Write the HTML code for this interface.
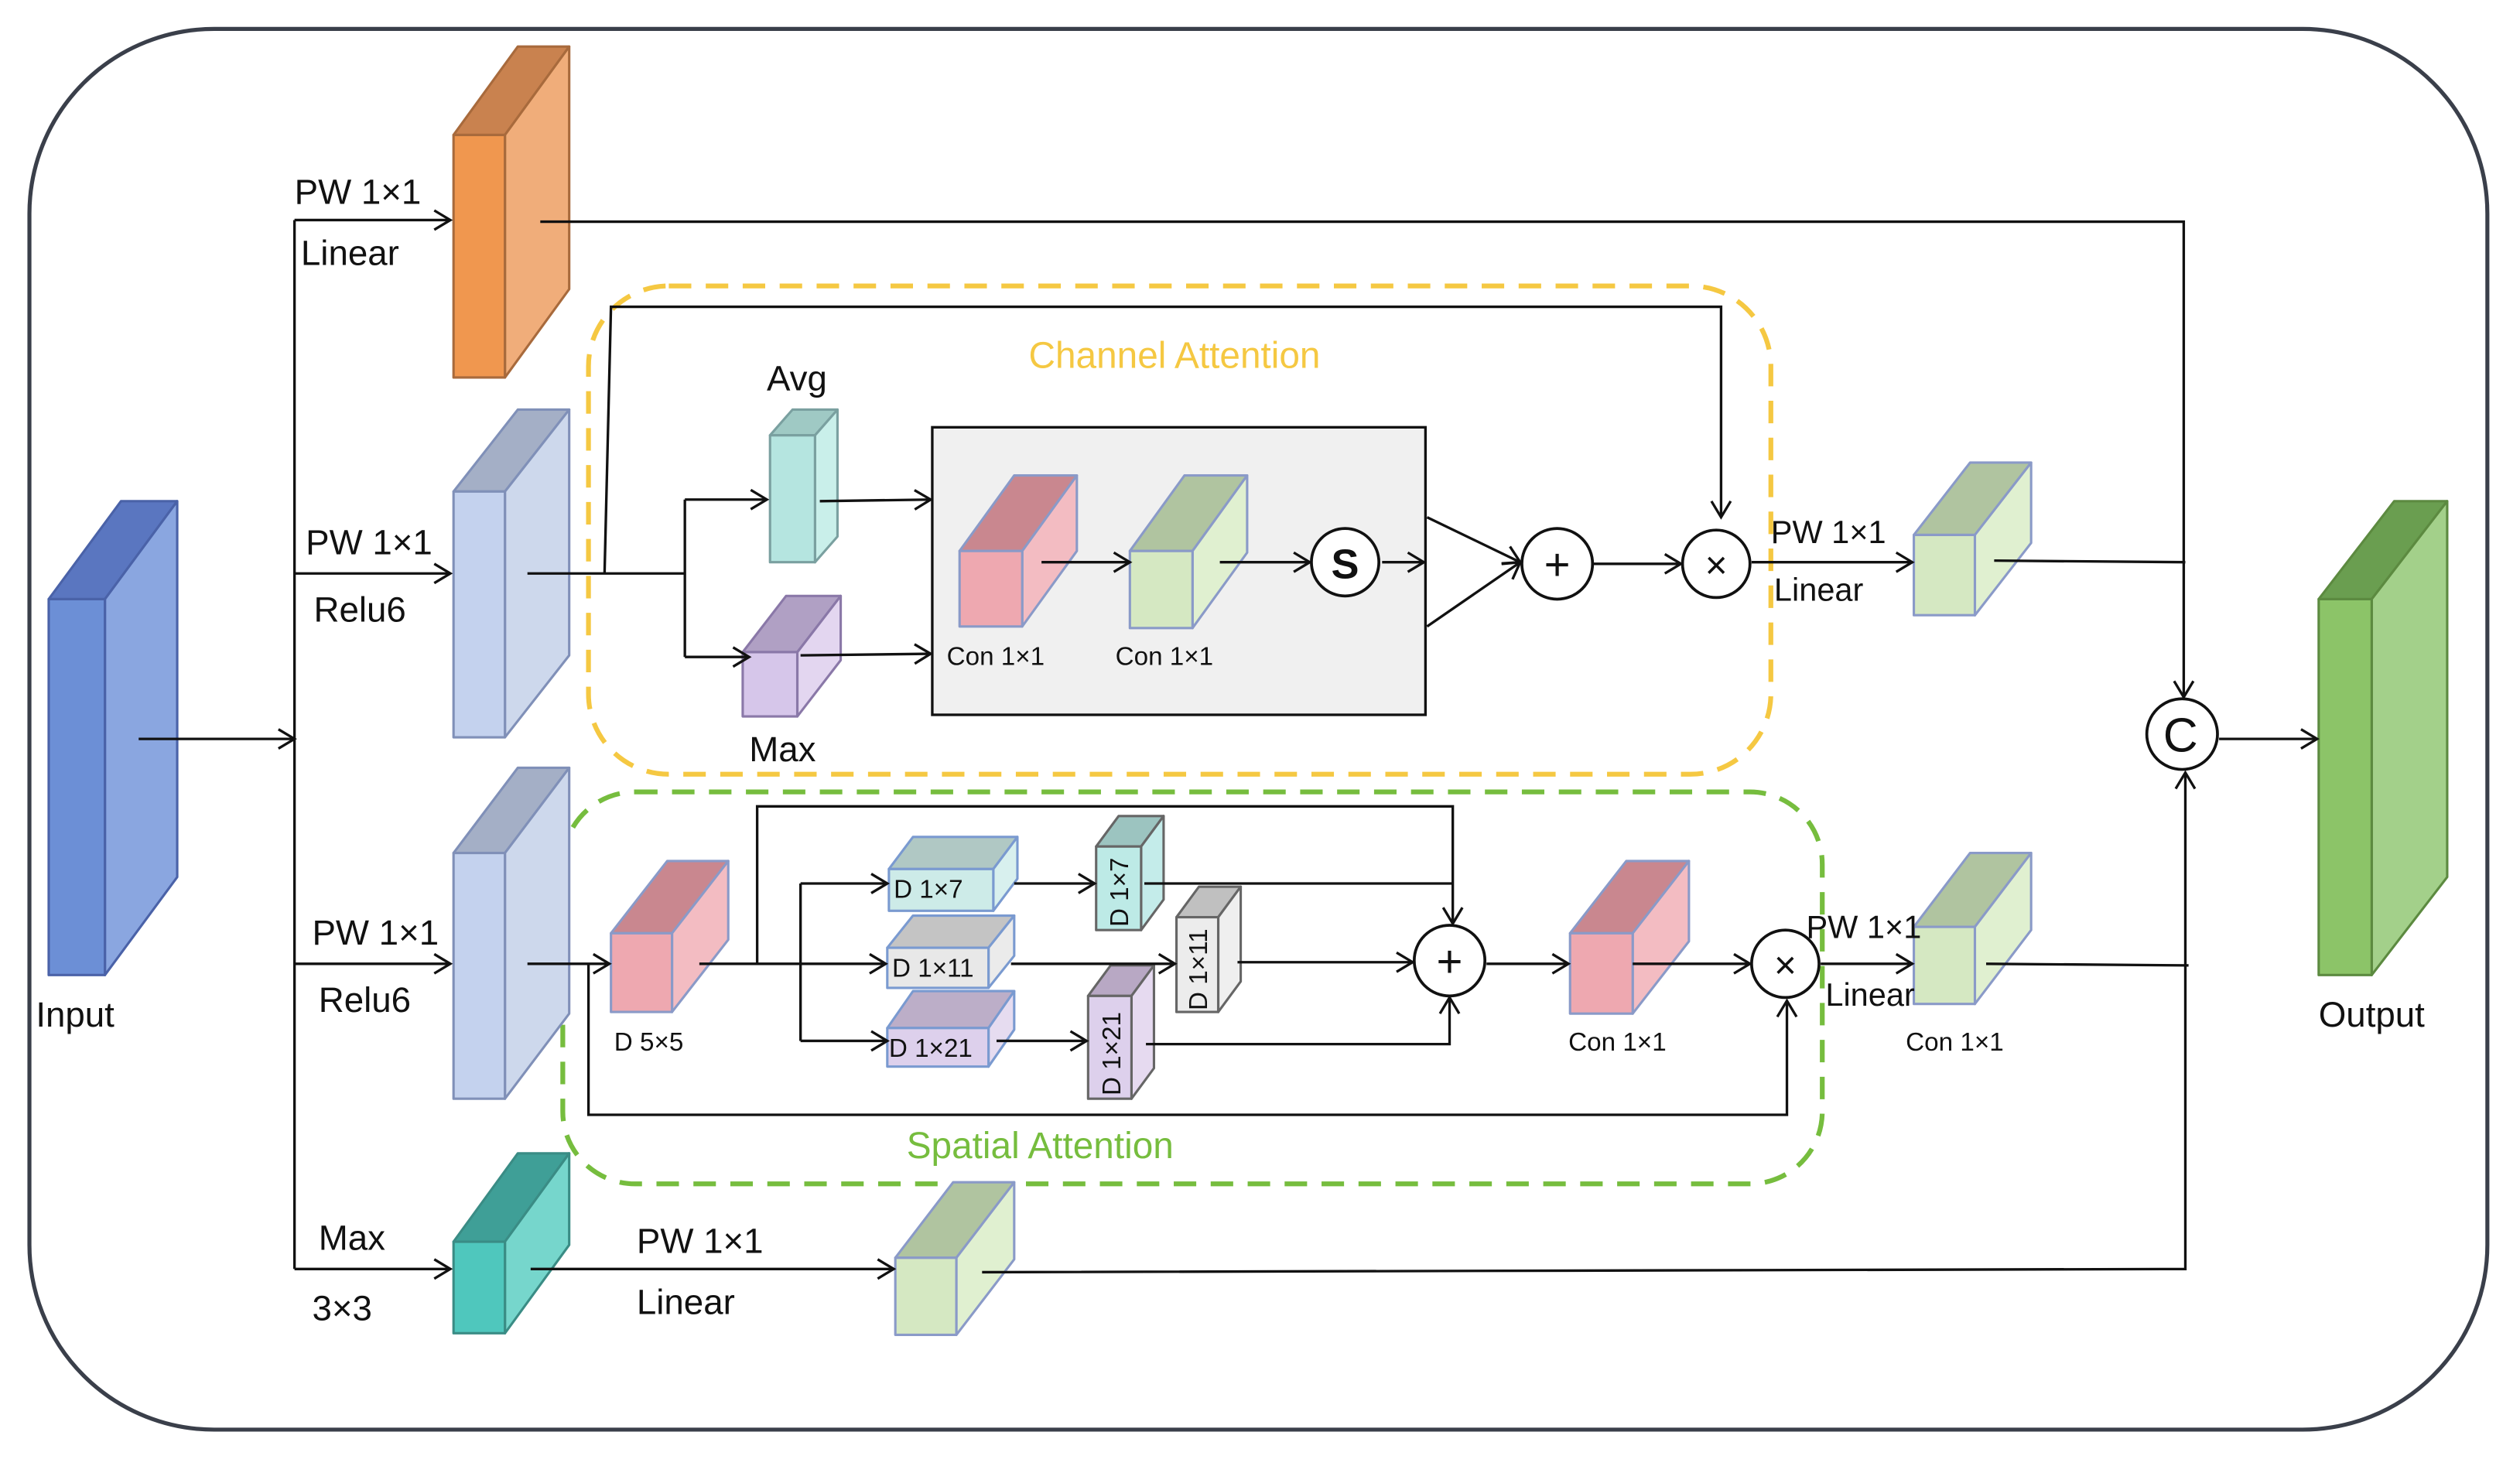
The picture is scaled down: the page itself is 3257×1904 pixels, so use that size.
<!DOCTYPE html>
<html><head><meta charset="utf-8"><style>
html,body{margin:0;padding:0;background:#fff}
svg{display:block}
text{font-family:"Liberation Sans","DejaVu Sans",sans-serif;fill:#111}
</style></head><body>
<svg width="3257" height="1904" viewBox="0 0 1568 917" xmlns="http://www.w3.org/2000/svg">
<defs>
<marker id="a" markerWidth="14" markerHeight="14" refX="11" refY="7" orient="auto" markerUnits="userSpaceOnUse">
<path d="M1,1 L11,7 L1,13" fill="none" stroke="#111" stroke-width="1.6"/></marker>
</defs>
<rect x="18" y="18" width="1530" height="872" rx="115" fill="#fff" stroke="#3a3f4a" stroke-width="2.5"/>

<!-- dashed boxes -->
<rect x="366" y="178" width="736" height="304" rx="50" fill="none" stroke="#f5c842" stroke-width="3" stroke-dasharray="14 9"/>
<rect x="350" y="493" width="784" height="244" rx="45" fill="none" stroke="#76bd3e" stroke-width="3" stroke-dasharray="14 9"/>
<rect x="580" y="266" width="307" height="179" fill="#f0f0f0" stroke="#111" stroke-width="1.6"/>

<g id="cubes" stroke-width="1.5" stroke-linejoin="round">
<!-- Input -->
<g stroke="#4a62a8"><polygon points="30,373 75,312 110,312 65,373" fill="#5a76c0"/><polygon points="65,373 110,312 110,546 65,607" fill="#8aa6e0"/><rect x="30" y="373" width="35" height="234" fill="#6c8fd6"/></g>
<!-- Orange -->
<g stroke="#a86a3c"><polygon points="282,84 322,29 354,29 314,84" fill="#c9824f"/><polygon points="314,84 354,29 354,180 314,235" fill="#f0ad7a"/><rect x="282" y="84" width="32" height="151" fill="#f0974f"/></g>
<!-- Relu6 top -->
<g stroke="#8090b8"><polygon points="282,306 322,255 354,255 314,306" fill="#a4afc6"/><polygon points="314,306 354,255 354,408 314,459" fill="#cdd8ec"/><rect x="282" y="306" width="32" height="153" fill="#c4d2ee"/></g>
<!-- Relu6 bottom -->
<g stroke="#8090b8"><polygon points="282,531 322,478 354,478 314,531" fill="#a4afc6"/><polygon points="314,531 354,478 354,631 314,684" fill="#cdd8ec"/><rect x="282" y="531" width="32" height="153" fill="#c4d2ee"/></g>
<!-- Teal max -->
<g stroke="#3a8c85"><polygon points="282,773 322,718 354,718 314,773" fill="#3f9f97"/><polygon points="314,773 354,718 354,775 314,830" fill="#76d6cc"/><rect x="282" y="773" width="32" height="57" fill="#4fc7bd"/></g>
<!-- Output -->
<g stroke="#5c8a40"><polygon points="1443,373 1490,312 1523,312 1476,373" fill="#6a9e50"/><polygon points="1476,373 1523,312 1523,546 1476,607" fill="#a3d08a"/><rect x="1443" y="373" width="33" height="234" fill="#8cc468"/></g>
<!-- Avg -->
<g stroke="#7aa0a0"><polygon points="479,271 493,255 521,255 507,271" fill="#9fc9c4"/><polygon points="507,271 521,255 521,334 507,350" fill="#c9efea"/><rect x="479" y="271" width="28" height="79" fill="#b5e5e0"/></g>
<!-- Max -->
<g stroke="#8a78a8"><polygon points="462,406 489,371 523,371 496,406" fill="#b0a0c4"/><polygon points="496,406 523,371 523,411 496,446" fill="#e3d6f0"/><rect x="462" y="406" width="34" height="40" fill="#d6c6ea"/></g>
<!-- Con pink ch -->
<g stroke="#8a9ac8"><polygon points="597,343 631,296 670,296 636,343" fill="#c9878f"/><polygon points="636,343 670,296 670,343 636,390" fill="#f3bcc2"/><rect x="597" y="343" width="39" height="47" fill="#eea8b0"/></g>
<!-- Con green ch -->
<g stroke="#8a9ac8"><polygon points="703,343 737,296 776,296 742,343" fill="#b0c4a0"/><polygon points="742,343 776,296 776,344 742,391" fill="#e0f0d0"/><rect x="703" y="343" width="39" height="48" fill="#d5e8c2"/></g>
<!-- ch out green -->
<g stroke="#8a9ac8"><polygon points="1191,333 1226,288 1264,288 1229,333" fill="#b0c4a0"/><polygon points="1229,333 1264,288 1264,338 1229,383" fill="#e0f0d0"/><rect x="1191" y="333" width="38" height="50" fill="#d5e8c2"/></g>
<!-- D5x5 -->
<g stroke="#8a9ac8"><polygon points="380,581 415,536 453,536 418,581" fill="#c9878f"/><polygon points="418,581 453,536 453,585 418,630" fill="#f3bcc2"/><rect x="380" y="581" width="38" height="49" fill="#eea8b0"/></g>
<!-- D1x7 h -->
<g stroke="#7a9ad0"><polygon points="553,541 568,521 633,521 618,541" fill="#b0c8c4"/><polygon points="618,541 633,521 633,547 618,567" fill="#d8f0ee"/><rect x="553" y="541" width="65" height="26" fill="#cdebe8"/></g>
<!-- D1x11 h -->
<g stroke="#7a9ad0"><polygon points="552,590 568,570 631,570 615,590" fill="#c4c4c4"/><polygon points="615,590 631,570 631,595 615,615" fill="#ebebeb"/><rect x="552" y="590" width="63" height="25" fill="#e8e8e8"/></g>
<!-- D1x21 h -->
<g stroke="#7a9ad0"><polygon points="552,640 568,617 631,617 615,640" fill="#bcaec8"/><polygon points="615,640 631,617 631,641 615,664" fill="#e6dcf0"/><rect x="552" y="640" width="63" height="24" fill="#ddd0ec"/></g>
<!-- D1x7 v -->
<g stroke="#666"><polygon points="682,527 696,508 724,508 710,527" fill="#9cc4c0"/><polygon points="710,527 724,508 724,560 710,579" fill="#c4ecea"/><rect x="682" y="527" width="28" height="52" fill="#bdeae6"/></g>
<!-- D1x11 v -->
<g stroke="#666"><polygon points="732,571 746,552 772,552 758,571" fill="#c0c0c0"/><polygon points="758,571 772,552 772,611 758,630" fill="#efefef"/><rect x="732" y="571" width="26" height="59" fill="#ececec"/></g>
<!-- D1x21 v -->
<g stroke="#666"><polygon points="677,620 691,601 718,601 704,620" fill="#b8a8c4"/><polygon points="704,620 718,601 718,665 704,684" fill="#e6daf0"/><rect x="677" y="620" width="27" height="64" fill="#ddd0ec"/></g>
<!-- Con pink sp -->
<g stroke="#8a9ac8"><polygon points="977,581 1012,536 1051,536 1016,581" fill="#c9878f"/><polygon points="1016,581 1051,536 1051,586 1016,631" fill="#f3bcc2"/><rect x="977" y="581" width="39" height="50" fill="#eea8b0"/></g>
<!-- sp out green -->
<g stroke="#8a9ac8"><polygon points="1191,577 1226,531 1264,531 1229,577" fill="#b0c4a0"/><polygon points="1229,577 1264,531 1264,579 1229,625" fill="#e0f0d0"/><rect x="1191" y="577" width="38" height="48" fill="#d5e8c2"/></g>
<!-- bottom green -->
<g stroke="#8a9ac8"><polygon points="557,783 593,736 631,736 595,783" fill="#b0c4a0"/><polygon points="595,783 631,736 631,784 595,831" fill="#e0f0d0"/><rect x="557" y="783" width="38" height="48" fill="#d5e8c2"/></g>
</g>

<g fill="none" stroke="#111" stroke-width="1.6">
<path d="M86,460 H183" marker-end="url(#a)"/>
<path d="M183,137 V790"/>
<path d="M183,137 H280" marker-end="url(#a)"/>
<path d="M183,357 H280" marker-end="url(#a)"/>
<path d="M183,600 H280" marker-end="url(#a)"/>
<path d="M183,790 H280" marker-end="url(#a)"/>
<path d="M336,138 H1359 V434" marker-end="url(#a)"/>
<path d="M328,357 H426"/>
<path d="M376,357 L380,191 H1071 V322" marker-end="url(#a)"/>
<path d="M426,311 V409"/>
<path d="M426,311 H477" marker-end="url(#a)"/>
<path d="M426,409 H466" marker-end="url(#a)"/>
<path d="M510,312 L579,311" marker-end="url(#a)"/>
<path d="M498,408 L579,407" marker-end="url(#a)"/>
<path d="M648,350 H703" marker-end="url(#a)"/>
<path d="M759,350 H815" marker-end="url(#a)"/>
<path d="M860,350 H886" marker-end="url(#a)"/>
<path d="M888,322 L946,350" marker-end="url(#a)"/>
<path d="M888,390 L946,350" marker-end="url(#a)"/>
<path d="M991,351 H1046" marker-end="url(#a)"/>
<path d="M1090,350 H1190" marker-end="url(#a)"/>
<path d="M1241,349 L1360,350"/>
<path d="M1381,460 H1442" marker-end="url(#a)"/>
<path d="M611,792 L1360,790 V481" marker-end="url(#a)"/>
<path d="M1236,600 L1362,601"/>
<path d="M328,600 H379" marker-end="url(#a)"/>
<path d="M366,600 V694 H1112 V623" marker-end="url(#a)"/>
<path d="M435,600 H551" marker-end="url(#a)"/>
<path d="M471,600 V502 H904 V575" marker-end="url(#a)"/>
<path d="M498,550 V648"/>
<path d="M498,550 H552" marker-end="url(#a)"/>
<path d="M498,648 H552" marker-end="url(#a)"/>
<path d="M631,550 H681" marker-end="url(#a)"/>
<path d="M712,550 H904"/>
<path d="M629,600 H731" marker-end="url(#a)"/>
<path d="M770,599 H879" marker-end="url(#a)"/>
<path d="M620,648 H676" marker-end="url(#a)"/>
<path d="M713,650 H902 V621" marker-end="url(#a)"/>
<path d="M925,600 H976" marker-end="url(#a)"/>
<path d="M1016,600 H1089" marker-end="url(#a)"/>
<path d="M1133,600 H1190" marker-end="url(#a)"/>
<path d="M330,790 H556" marker-end="url(#a)"/>
</g>

<g fill="#fff" stroke="#111" stroke-width="1.8">
<circle cx="837" cy="350" r="21"/>
<circle cx="969" cy="351" r="22"/>
<circle cx="1068" cy="351" r="21"/>
<circle cx="1358" cy="457" r="22"/>
<circle cx="902" cy="598" r="22"/>
<circle cx="1111" cy="600" r="21"/>
</g>
<g font-size="28" text-anchor="middle">
<text x="837" y="360" font-weight="bold" font-size="26">S</text>
<text x="969" y="361">+</text>
<text x="1068" y="360" font-size="24">×</text>
<text x="1357" y="468" font-size="30">C</text>
<text x="902" y="608">+</text>
<text x="1111" y="609" font-size="24">×</text>
</g>

<g font-size="22">
<text x="183" y="127">PW 1×1</text><text x="187" y="165">Linear</text>
<text x="190" y="345">PW 1×1</text><text x="195" y="387">Relu6</text>
<text x="194" y="588">PW 1×1</text><text x="198" y="630">Relu6</text>
<text x="198" y="778">Max</text><text x="194" y="822">3×3</text>
<text x="396" y="780">PW 1×1</text><text x="396" y="818">Linear</text>
<text x="22" y="639">Input</text><text x="1443" y="639">Output</text>
<text x="477" y="243">Avg</text><text x="466" y="474">Max</text>
<text x="1102" y="338" font-size="20">PW 1×1</text><text x="1104" y="374" font-size="20">Linear</text>
<text x="1124" y="584" font-size="20">PW 1×1</text><text x="1136" y="626" font-size="20">Linear</text>
</g>
<text x="640" y="229" font-size="23" style="fill:#f5c842">Channel Attention</text>
<text x="564" y="721" font-size="23" style="fill:#76bd3e">Spatial Attention</text>
<g font-size="16">
<text x="589" y="414">Con 1×1</text><text x="694" y="414">Con 1×1</text>
<text x="976" y="654">Con 1×1</text><text x="1186" y="654">Con 1×1</text>
<text x="382" y="654">D 5×5</text>
<text x="556" y="559">D 1×7</text>
<text x="555" y="608">D 1×11</text>
<text x="553" y="658">D 1×21</text>
<text transform="translate(702,577) rotate(-90)">D 1×7</text>
<text transform="translate(751,629) rotate(-90)">D 1×11</text>
<text transform="translate(697,682) rotate(-90)">D 1×21</text>
</g>
</svg>
</body></html>
